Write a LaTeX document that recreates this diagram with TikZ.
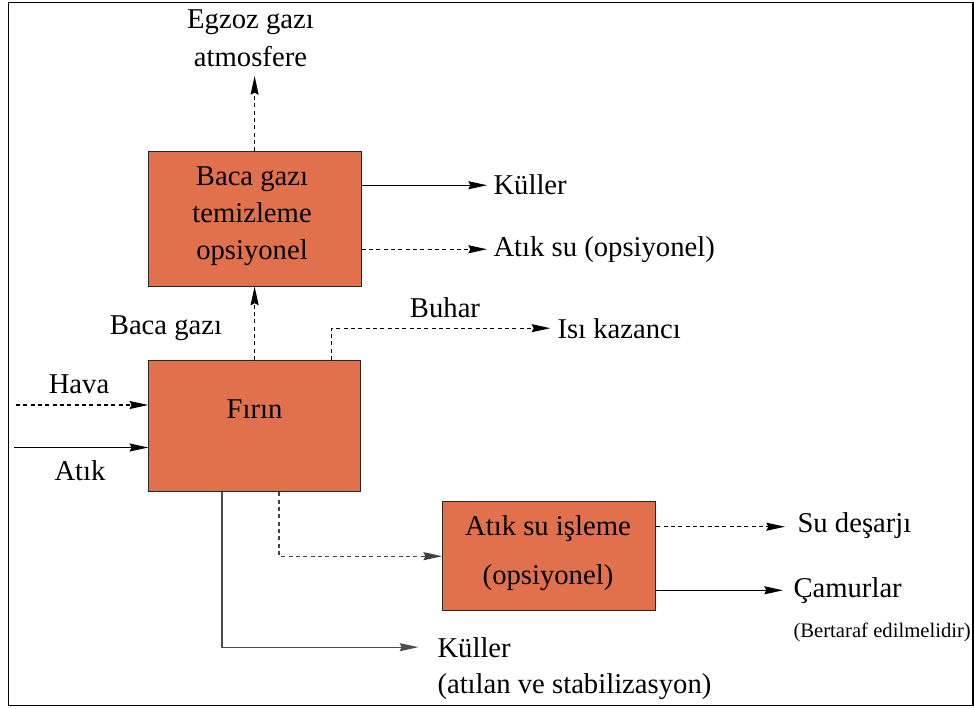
\documentclass[tikz,border=0pt]{standalone}
\usepackage{fontspec}
\setmainfont{Liberation Serif}
\usetikzlibrary{arrows.meta}
\usetikzlibrary{calc}
\definecolor{turuncu}{RGB}{225,113,77}
\tikzset{every picture/.style={line width=0.75pt}}

\begin{document}
\begin{tikzpicture}[x=0.75pt,y=0.75pt,yscale=-1,xscale=1,
  kutu/.style={draw=black!85, fill=turuncu, line width=0.75pt, inner sep=0pt},
  ok/.style={-{Stealth[length=14pt,width=6pt,inset=1.5pt]}, line width=0.9pt},
  kesik/.style={ok, dash pattern={on 3pt off 2.5pt}},
  yazi/.style={inner sep=0pt, font=\fontsize{21.5}{28}\selectfont},
  kucuk/.style={inner sep=0pt, font=\fontsize{15.5}{20}\selectfont}]
\useasboundingbox (0,0) rectangle (974,709);

%Shape: Frame
\draw [line width=1.2pt] (8.5,2.5) rectangle (973,705.5);

%Shape: Rectangle [baca]
\node [kutu, minimum width=159.75pt, minimum height=100.5pt] (baca) at (254.6,219) {};
%Shape: Rectangle [firin]
\node [kutu, minimum width=158.8pt, minimum height=98.5pt] (firin) at (254.6,426.3) {};
%Shape: Rectangle [aritma]
\node [kutu, minimum width=160pt, minimum height=81.75pt] (aritma) at (549.3,556.2) {};

% Text Node
\node [yazi, align=center, anchor=north] (bacayazi) at (252,166) {Baca gazı\\temizleme\\opsiyonel};
% Text Node
\node [yazi, anchor=base] (firinyazi) at (254.6,418) {Fırın};
% Text Node
\node [yazi, align=center, anchor=north] (aritmayazi) at (548,515.4) {Atık su işleme\\[8.75pt](opsiyonel)};
% Text Node
\node [yazi, align=center, anchor=south] (egzoz) at (250.5,67) {Egzoz gazı\\atmosfere};
% Text Node
\node [yazi, anchor=base] (bacagazi) at (166,334) {Baca gazı};
% Text Node
\node [yazi, anchor=base] (buhar) at (445,317) {Buhar};
% Text Node
\node [yazi, anchor=base west] (isi) at (557,338) {Isı kazancı};
% Text Node
\node [yazi, anchor=base west] (kul1) at (493,195) {Küller};
% Text Node
\node [yazi, anchor=base west] (atiksu) at (493,257) {Atık su (opsiyonel)};
% Text Node
\node [yazi, anchor=base] (hava) at (79,393) {Hava};
% Text Node
\node [yazi, anchor=base] (atik) at (80,480) {Atık};
% Text Node
\node [yazi, anchor=base west] (kul2) at (437,657) {Küller};
% Text Node
\node [yazi, anchor=base west] (atilan) at (437,693) {(atılan ve stabilizasyon)};
% Text Node
\node [yazi, anchor=base west] (su) at (797,532) {Su deşarjı};
% Text Node
\node [yazi, anchor=base west] (camur) at (793,597) {Çamurlar};
% Text Node
\node [kucuk, anchor=base west] (bertaraf) at (793,637) {(Bertaraf edilmelidir)};

% free ends and side points
\coordinate (havabas) at (16,405);
\coordinate (atikbas) at (14,447.5);
\coordinate (b1) at ($(baca.north east)!0.25!(baca.south east)$);
\coordinate (b2) at ($(baca.north east)!0.724!(baca.south east)$);
\coordinate (a1) at ($(aritma.north east)!0.232!(aritma.south east)$);
\coordinate (a2) at ($(aritma.north east)!0.81!(aritma.south east)$);
\coordinate (fb) at ($(firin.north)+(77,0)$);
\coordinate (fs1) at ($(firin.south)+(24.4,0)$);
\coordinate (fs2) at ($(firin.south)+(-32.6,0)$);

%Straight Lines
\draw [kesik, shorten >=6.75pt] (baca.north) -- (baca.north |- egzoz.south);
\draw [kesik] (firin.north) -- (baca.south);
\draw [kesik, shorten >=5pt] (fb) |- (isi.west);
\draw [ok, shorten >=4.5pt] (b1) -- (b1 -| kul1.west);
\draw [kesik, shorten >=4.5pt] (b2) -- (b2 -| atiksu.west);
\draw [kesik] (havabas) -- (havabas -| firin.west);
\draw [ok] (atikbas) -- (atikbas -| firin.west);
\draw [kesik, draw=black!75] (fs1) |- (aritma.west);
\draw [ok, draw=black!70, shorten >=14pt] (fs2) |- (kul2.west);
\draw [kesik, shorten >=9pt] (a1) -- (a1 -| su.west);
\draw [ok, shorten >=7.5pt] (a2) -- (a2 -| camur.west);

\end{tikzpicture}
\end{document}
